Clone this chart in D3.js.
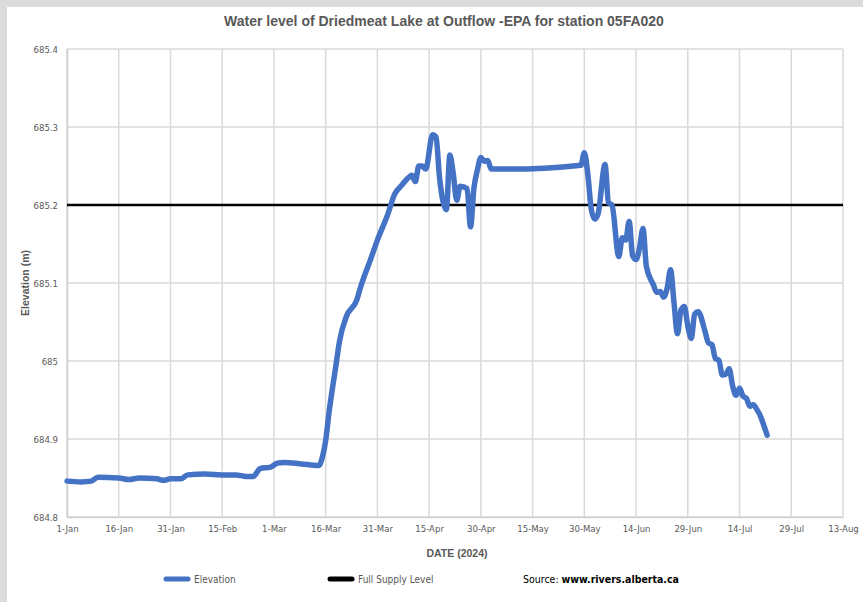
<!DOCTYPE html>
<html>
<head>
<meta charset="utf-8">
<script src="https://cdn.jsdelivr.net/npm/d3@7"></script>
<style>
  body { margin: 0; background: #dcdcdc; }
  svg { display: block; }
  .narrow { font-family: "Liberation Sans Narrow", "DejaVu Sans Condensed", "Roboto", sans-serif; }
</style>
</head>
<body>
<svg id="chart" width="863" height="602"></svg>
<script>
// observation dates and water elevations (m)
const dates = [
  '2024-01-01','2024-01-05','2024-01-08','2024-01-10','2024-01-16','2024-01-19','2024-01-22','2024-01-27','2024-01-29','2024-01-31',
  '2024-02-03','2024-02-05','2024-02-10','2024-02-15','2024-02-19','2024-02-22','2024-02-24','2024-02-26','2024-02-29',
  '2024-03-02','2024-03-04','2024-03-09','2024-03-14','2024-03-15','2024-03-16','2024-03-17','2024-03-19','2024-03-20','2024-03-22',
  '2024-03-25','2024-03-26','2024-03-29','2024-03-31',
  '2024-04-03','2024-04-05','2024-04-07','2024-04-09','2024-04-10','2024-04-11','2024-04-12','2024-04-13','2024-04-14','2024-04-16',
  '2024-04-17','2024-04-18','2024-04-20','2024-04-21','2024-04-22','2024-04-23','2024-04-24','2024-04-26','2024-04-27','2024-04-28',
  '2024-04-29','2024-04-30','2024-05-01','2024-05-02','2024-05-03','2024-05-08','2024-05-29','2024-05-30','2024-05-31',
  '2024-06-01','2024-06-02','2024-06-03','2024-06-05','2024-06-06','2024-06-07','2024-06-09','2024-06-10','2024-06-11','2024-06-12',
  '2024-06-13','2024-06-14','2024-06-15','2024-06-16','2024-06-17','2024-06-19','2024-06-20','2024-06-21','2024-06-22','2024-06-23',
  '2024-06-24','2024-06-25','2024-06-26','2024-06-27','2024-06-28','2024-06-29','2024-06-30',
  '2024-07-01','2024-07-02','2024-07-04','2024-07-05','2024-07-06','2024-07-07','2024-07-08','2024-07-09','2024-07-10','2024-07-11',
  '2024-07-12','2024-07-13','2024-07-14','2024-07-15','2024-07-16','2024-07-17','2024-07-18','2024-07-19','2024-07-20','2024-07-21','2024-07-22'
];
const elevation = [
  684.846,684.845,684.846,684.851,684.850,684.848,684.850,684.849,684.847,684.849,
  684.849,684.854,684.855,684.854,684.854,684.852,684.852,684.862,684.864,
  684.869,684.870,684.868,684.866,684.876,684.898,684.935,684.995,685.025,685.057,
  685.078,685.093,685.130,685.155,
  685.188,685.214,685.225,685.235,685.238,685.230,685.250,685.250,685.246,685.290,
  685.287,685.236,685.194,685.264,685.240,685.206,685.224,685.221,685.172,685.222,
  685.245,685.261,685.256,685.257,685.246,685.246,685.251,685.267,685.240,
  685.195,685.182,685.189,685.252,685.203,685.200,685.134,685.158,685.155,685.179,
  685.135,685.130,685.145,685.170,685.121,685.098,685.088,685.089,685.082,685.093,
  685.117,685.075,685.035,685.065,685.070,685.045,685.029,
  685.060,685.063,685.038,685.023,685.021,685.003,685.001,684.982,684.983,684.990,
  684.968,684.956,684.965,684.955,684.952,684.942,684.944,684.938,684.930,684.918,684.905
];
const fullSupplyLevel = 685.2;
const yTicks = [684.8, 684.9, 685, 685.1, 685.2, 685.3, 685.4];
const xStart = '2024-01-01', xEnd = '2024-08-13';

const parse = d3.timeParse('%Y-%m-%d');
const series = dates.map((d, i) => ({ date: parse(d), value: elevation[i] }));

const svg = d3.select('#chart');
const margin = { left: 67, right: 20, top: 49, bottom: 85 };
const W = 863, H = 602;

svg.append('rect').attr('x', 7).attr('y', 7).attr('width', W - 7).attr('height', H - 7).attr('fill', '#fff');

const x = d3.scaleTime().domain([parse(xStart), parse(xEnd)]).range([margin.left, W - margin.right]);
const y = d3.scaleLinear().domain([684.8, 685.4]).range([H - margin.bottom, margin.top]);

// ticks every 15 days from 1-Jan
const xTickVals = d3.range(0, 16).map(i => d3.timeDay.offset(parse(xStart), i * 15));

// grid
const grid = svg.append('g');
grid.selectAll('line.v').data(xTickVals).enter().append('line')
  .attr('x1', d => x(d)).attr('x2', d => x(d))
  .attr('y1', y(685.4)).attr('y2', y(684.8))
  .attr('stroke', '#d9d9d9').attr('stroke-width', 1.5);
grid.selectAll('line.h').data(yTicks).enter().append('line')
  .attr('x1', x.range()[0]).attr('x2', x.range()[1])
  .attr('y1', d => y(d)).attr('y2', d => y(d))
  .attr('stroke', '#d9d9d9').attr('stroke-width', 1.5);

// axes
const fmtX = d3.timeFormat('%-d-%b');
const xAxis = svg.append('g').attr('transform', `translate(0,${y(684.8)})`)
  .call(d3.axisBottom(x).tickValues(xTickVals).tickFormat(fmtX).tickSize(0).tickPadding(8));
const yAxis = svg.append('g').attr('transform', `translate(${x.range()[0]},0)`)
  .call(d3.axisLeft(y).tickValues(yTicks).tickFormat(d => String(+d.toFixed(1))).tickSize(0).tickPadding(9));
[xAxis, yAxis].forEach(a => {
  a.select('.domain').attr('stroke', '#d0d0d0').attr('stroke-width', 1.5);
  a.selectAll('text').attr('class', 'narrow').attr('font-size', 9.5).attr('fill', '#595959');
});

// full supply level
svg.append('line')
  .attr('x1', x.range()[0]).attr('x2', x.range()[1])
  .attr('y1', y(fullSupplyLevel)).attr('y2', y(fullSupplyLevel))
  .attr('stroke', '#000').attr('stroke-width', 2.5);

// elevation
const line = d3.line().x(d => x(d.date)).y(d => y(d.value)).curve(d3.curveMonotoneX);
svg.append('path').datum(series)
  .attr('d', line)
  .attr('fill', 'none').attr('stroke', '#4472c4').attr('stroke-width', 5.5)
  .attr('stroke-linejoin', 'round').attr('stroke-linecap', 'round');

// titles
svg.append('text').attr('x', 444).attr('y', 26).attr('text-anchor', 'middle')
  .attr('font-family', 'Liberation Sans, Arial, sans-serif').attr('font-weight', 'bold')
  .attr('font-size', 14).attr('fill', '#595959')
  .text('Water level of Driedmeat Lake at Outflow -EPA for station 05FA020');

svg.append('text').attr('transform', `translate(29,${y(685.1)}) rotate(-90)`).attr('text-anchor', 'middle')
  .attr('font-family', 'Liberation Sans, Arial, sans-serif').attr('font-weight', 'bold')
  .attr('font-size', 10.5).attr('fill', '#595959').text('Elevation (m)');

svg.append('text').attr('x', 457).attr('y', 557).attr('text-anchor', 'middle')
  .attr('font-family', 'Liberation Sans, Arial, sans-serif').attr('font-weight', 'bold')
  .attr('font-size', 10.5).attr('fill', '#595959').text('DATE (2024)');

// legend
const legend = [
  { label: 'Elevation', color: '#4472c4', x: 166 },
  { label: 'Full Supply Level', color: '#000', x: 330 }
];
const lg = svg.append('g').selectAll('g').data(legend).enter().append('g')
  .attr('transform', d => `translate(${d.x},579)`);
lg.append('line').attr('x1', 0).attr('x2', 22).attr('stroke', d => d.color)
  .attr('stroke-width', 5).attr('stroke-linecap', 'round');
lg.append('text').attr('class', 'narrow').attr('x', 28).attr('y', 3.5)
  .attr('font-size', 10).attr('fill', '#595959').text(d => d.label);

const src = svg.append('text').attr('class', 'narrow').attr('x', 523).attr('y', 582.5)
  .attr('font-size', 10.5).attr('fill', '#000');
src.append('tspan').text('Source: ');
src.append('tspan').attr('font-weight', 'bold').text('www.rivers.alberta.ca');
</script>
</body>
</html>
